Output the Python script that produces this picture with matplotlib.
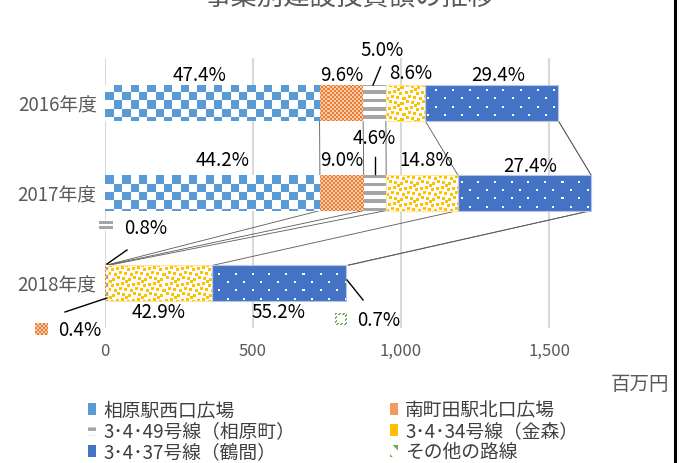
import numpy as np
import matplotlib.pyplot as plt
from matplotlib.colors import to_rgb
from matplotlib.lines import Line2D
from matplotlib.patches import Rectangle
from matplotlib.transforms import IdentityTransform

plt.rcParams['font.family'] = ['Noto Sans CJK JP', 'DejaVu Sans']
plt.rcParams['hatch.linewidth'] = 2.5

# ---- data (百万円) ----
years = ['2016年度', '2017年度', '2018年度']
series_names = ['相原駅西口広場', '南町田駅北口広場', '3･4･49号線（相原町）',
                '3･4･34号線（金森）', '3･4･37号線（鶴間）', 'その他の路線']
aihara = [725, 726, 0]
minami = [147, 148, 3.3]
line_49 = [77, 76, 6.6]
line_34 = [132, 243, 352]
line_37 = [450, 450, 453]
others = [0, 0, 5.7]

# data labels as printed on the chart
pct_aihara = ['47.4%', '44.2%', None]
pct_minami = ['9.6%', '9.0%', '0.4%']
pct_49 = ['5.0%', '4.6%', '0.8%']
pct_34 = ['8.6%', '14.8%', '42.9%']
pct_37 = ['29.4%', '27.4%', '55.2%']
pct_others = [None, None, '0.7%']

values = np.array([aihara, minami, line_49, line_34, line_37, others], dtype=float)
pcts = [pct_aihara, pct_minami, pct_49, pct_34, pct_37, pct_others]

# ---- styling ----
textures = ['checker', 'fine', 'stripes', 'confetti', 'dots', 'green']
edge_cols = ['none', 'none', 'none', '#FFE699', '#B4C7E7', 'none']

# label offsets (dx, dy) in pixels from segment centre, y downward
label_off = {
    (0, 0): (-13, -28), (1, 0): (0, -28), (2, 0): (7.5, -53), (3, 0): (5.6, -30), (4, 0): (7, -28),
    (0, 1): (10.6, -33), (1, 1): (0, -33), (2, 1): (-1, -54), (3, 1): (4, -33), (4, 1): (5, -27),
    (1, 2): (-25.5, 47), (2, 2): (39, -55), (3, 2): (-1, 30), (4, 2): (-1, 30), (5, 2): (32, 38),
}
# leader lines: (start offset, end offset) from segment centre, pixels, y downward
leaders = {
    (2, 0): ((-1.5, -18), (6, -36)),
    (2, 1): ((0, -19), (0, -36)),
    (2, 2): ((0, -19), (20, -33)),
    (1, 2): ((1.5, 15), (-40.5, 29)),
    (5, 2): ((0, -3), (16, 17)),
}
# legend-key icons next to some labels: offset from label centre, size
icons = {(2, 2): (-39, -3, 14, 10), (1, 2): (-38, -1, 13, 12), (5, 2): (-38, -2, 12, 12)}


def make_tex(kind, h, w):
    yy, xx = np.mgrid[0:h, 0:w].astype(float)
    img = np.ones((h, w, 3))
    if kind == 'checker':
        m = ((np.floor(xx / 8.35) + np.floor(yy / 8.35)) % 2) == 0
        img[m] = to_rgb('#5B9BD5')
    elif kind == 'fine':
        img[:] = to_rgb('#F8CBAD')
        m = ((xx // 2 + yy // 2) % 2) == 0
        img[m] = to_rgb('#ED7D31')
    elif kind == 'stripes':
        m = ((yy + 2) % 8.4) < 3.8
        img[m] = to_rgb('#A5A5A5')
    elif kind == 'confetti':
        tile = np.zeros((16, 16), dtype=bool)
        spots = [(0, 0), (6, 2), (11, 1), (3, 6), (9, 7), (14, 5),
                 (1, 11), (7, 12), (12, 10), (4, 14)]
        for sx, sy in spots:
            for a in range(3):
                for b in range(3):
                    tile[(sy + a) % 16, (sx + b) % 16] = True
        m = tile[yy.astype(int) % 16, xx.astype(int) % 16]
        img[m] = to_rgb('#FFC000')
    elif kind == 'dots':
        img[:] = to_rgb('#4472C4')
        r = np.floor((yy + 3) / 8.35)
        m = (((yy + 3) % 8.35) < 2) & (((xx + 4 + (r % 2) * 8.35) % 16.7) < 2)
        img[m] = (1, 1, 1)
    elif kind == 'green':
        edge = (yy < 1.5) | (yy > h - 2.5) | (xx < 1.5) | (xx > w - 2.5)
        m = edge & (((xx + yy) // 2) % 2 == 0)
        img[m] = to_rgb('#70AD47')
    return img


W, H = 686, 463
fig = plt.figure(figsize=(W / 100, H / 100), dpi=100)
ax_l, ax_t, ax_w, ax_h = 105, 58, 580, 270
ax = fig.add_axes([ax_l / W, (H - ax_t - ax_h) / H, ax_w / W, ax_h / H])
xmax = ax_w / 0.296
ax.set_xlim(0, xmax)
ax.set_ylim(2.5, -0.5)

bar_h = 0.39
ypos = np.arange(len(years))
lefts = np.vstack([np.zeros(len(years)), np.cumsum(values, axis=0)[:-1]])
ends = np.cumsum(values, axis=0)

for i, name in enumerate(series_names):
    bars = ax.barh(ypos, values[i], left=lefts[i], height=bar_h, facecolor='none',
                   edgecolor=edge_cols[i], linewidth=0.8, zorder=3, label=name)
    tex = make_tex(textures[i], ax_h, ax_w)
    for b, v in zip(bars, values[i]):
        if v <= 0:
            continue
        im = ax.imshow(tex, extent=(0, xmax, 2.5, -0.5), origin='upper',
                       interpolation='nearest', aspect='auto', zorder=2)
        im.set_clip_path(b)
ax.set_xlim(0, xmax)
ax.set_ylim(2.5, -0.5)

# series lines between consecutive bars
for i in range(len(series_names)):
    for c in range(len(years) - 1):
        ax.plot([ends[i, c], ends[i, c + 1]], [c + bar_h / 2, c + 1 - bar_h / 2],
                color='#595959', lw=0.6, zorder=1.5)

# axes style
ax.set_xticks([0, 500, 1000, 1500])
ax.set_xticklabels(['0', '500', '1,000', '1,500'])
ax.set_yticks(ypos)
ax.set_yticklabels(years)
ax.grid(axis='x', color='#D9D9D9', lw=1.5, zorder=0)
ax.set_axisbelow(True)
for s in ax.spines.values():
    s.set_visible(False)
ax.tick_params(axis='x', length=0, pad=11, labelsize=12, labelcolor='#595959')
ax.tick_params(axis='y', length=0, pad=6, labelsize=13.5, labelcolor='#595959')

# data labels, leaders, icons
fig.canvas.draw()
to_px = ax.transData.transform
for (i, c), (dx, dy) in label_off.items():
    txt = pcts[i][c]
    xc = lefts[i, c] + values[i, c] / 2
    ax.annotate(txt, xy=(xc, c), xytext=(dx, -dy), textcoords='offset pixels',
                ha='center', va='center', fontsize=13.5, color='black', zorder=5,
                annotation_clip=False)
    px, py = to_px((xc, c))
    if (i, c) in leaders:
        (sx, sy), (ex, ey) = leaders[(i, c)]
        ln = Line2D([px + sx, px + ex], [py - sy, py - ey], color='black', lw=1.0,
                    transform=IdentityTransform(), clip_on=False, zorder=5)
        fig.add_artist(ln)
    if (i, c) in icons:
        ox, oy, iw, ih = icons[(i, c)]
        cx, cy = px + dx + ox, py - dy - oy
        if textures[i] == 'stripes':
            icon = np.ones((ih, iw, 3))
            icon[1:4] = to_rgb('#A5A5A5')
            icon[6:9] = to_rgb('#A5A5A5')
        else:
            icon = make_tex(textures[i], ih, iw)
        fig.figimage(icon, xo=int(cx - iw / 2), yo=int(cy - ih / 2), origin='upper', zorder=5)

# unit label and title
fig.text(669 / W, 1 - 384 / H, '百万円', ha='right', va='center', fontsize=14, color='#595959')
fig.text(350 / W, 1 - 5 / H, '事業別建設投資額の推移', ha='center', va='baseline',
         fontsize=19, color='#595959')

# legend, two columns
hatch_handles = [
    Rectangle((0, 0), 1, 1, facecolor='#5B9BD5', edgecolor='none'),
    Rectangle((0, 0), 1, 1, facecolor='#F19A61', edgecolor='none'),
    Rectangle((0, 0), 1, 1, facecolor='white', edgecolor='#A5A5A5', hatch='--', lw=0),
    Rectangle((0, 0), 1, 1, facecolor='#FFC000', edgecolor='none'),
    Rectangle((0, 0), 1, 1, facecolor='#4472C4', edgecolor='none'),
    Rectangle((0, 0), 1, 1, facecolor='white', edgecolor='#70AD47', hatch='\\\\', lw=0),
]
leg_kw = dict(loc='upper left', frameon=False, fontsize=13.5, labelcolor='#404040',
              handlelength=0.45, handleheight=0.6, handletextpad=0.35,
              labelspacing=0.0, borderpad=0, borderaxespad=0)
leg1 = fig.legend([hatch_handles[k] for k in (0, 2, 4)], [series_names[k] for k in (0, 2, 4)],
                  bbox_to_anchor=(88 / W, 1 - 400 / H), **leg_kw)
leg2 = fig.legend([hatch_handles[k] for k in (1, 3, 5)], [series_names[k] for k in (1, 3, 5)],
                  bbox_to_anchor=(390 / W, 1 - 400 / H), **leg_kw)

# chart border fragment on the right
fig.add_artist(Line2D([674.5 / W, 674.5 / W], [0, 1], color='black', lw=2.2))

fig.savefig('out.png', dpi=100)
